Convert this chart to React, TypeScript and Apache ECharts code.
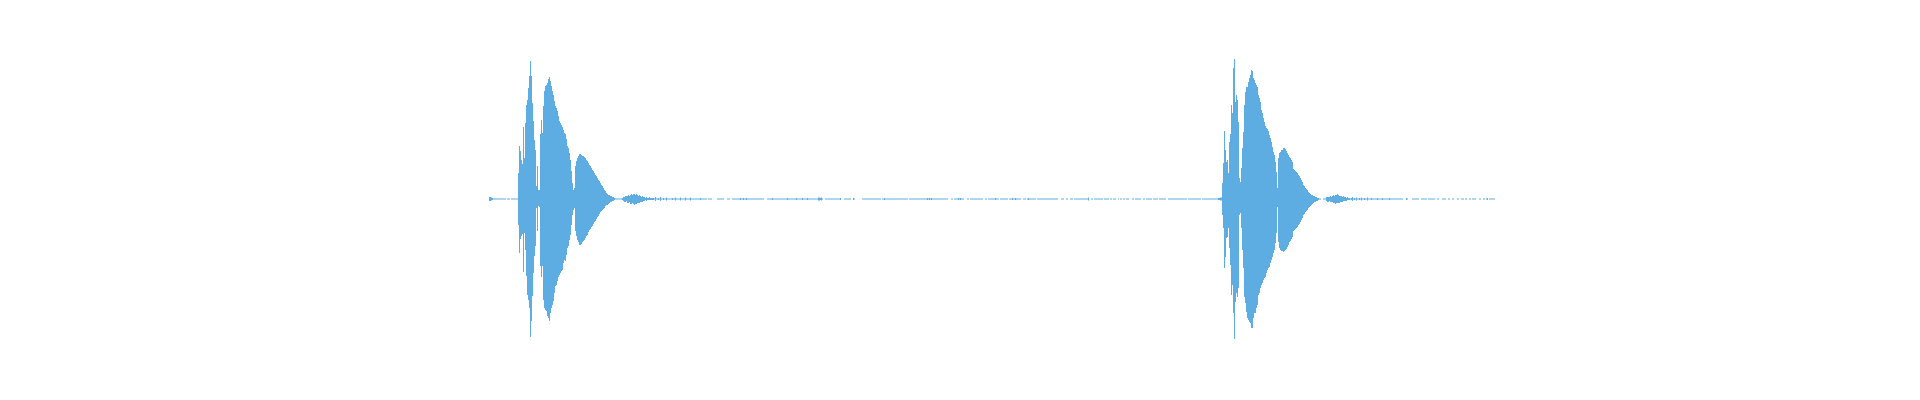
import React, { useRef, useEffect } from 'react';
import * as echarts from 'echarts';

// amplitude per sample (one sample per pixel column)
const leadIn = [
  2, 2, 1.5, 1, .6, .6, .6, .6, .6, .6, .6, .6, .6, .6, .6, .6, .6, 0, .6, .6,
  .6, 0, .6, .6, .6, .6, .6, .6,
];

const burst1Up = [
  .6, 26, 53, 48, 39, 35, 72, 41, 76, 94,
  99, 111, 123, 138, 123, 96, 78, 59, 49, 13,
  33, 9, 9, 65, 79, 66, 93, 108, 113, 114,
  116, 120, 122, 118, 113, 108, 104, 98, 93, 91,
  88, 83, 78, 76, 74, 72, 69, 66, 65, 60,
  53, 51, 46, 39, 28, 16, 9, 11, 33, 38,
  41, 43, 45, 45, 44, 43, 43, 42, 41, 39,
  38, 36, 34, 33, 31, 29, 28, 26, 24, 23,
  21, 19, 18, 16, 14, 13, 11, 9, 8, 6,
  5, 4, 4, 3, 3, 2, 2, 1, .6, .6,
  .6, .6, .6, .6, .6, 1, 2, 2, 3, 3,
  3, 4, 3, 4, 5, 4, 5, 5, 4, 5,
  4, 3, 4, 3, 2, 3, 2, 2, 1, 2,
  1, 1, 2, 1, 1, 1,
];

const burst1Down = [
  .6, 26, 54, 40, 37, 35, 73, 34, 51, 77,
  96, 101, 109, 138, 122, 97, 74, 57, 47, 9,
  32, 7, 8, 67, 78, 67, 101, 109, 111, 112,
  117, 119, 122, 114, 109, 106, 102, 94, 87, 86,
  82, 78, 76, 74, 72, 71, 64, 61, 62, 56,
  49, 47, 41, 36, 26, 16, 11, 9, 32, 37,
  41, 43, 46, 46, 45, 43, 42, 41, 39, 37,
  36, 33, 31, 30, 28, 27, 25, 23, 22, 20,
  18, 17, 15, 13, 12, 11, 10, 9, 7, 6,
  6, 5, 4, 3, 3, 2, 2, 1, .6, .6,
  .6, .6, .6, .6, .6, 1, 2, 3, 3, 2,
  4, 4, 3, 5, 5, 4, 5, 6, 5, 5,
  4, 4, 4, 3, 3, 3, 2, 2, 1, 2,
  1, 1, 1, 1, 1, 1,
];

const quiet1 = [
  1, .6, 2, .6, .6, 1, .6, 2, .6, .6, 1, .6, .6, 1.5, .6, .6, .6, .6, .6, 1,
  .6, .6, 1.5, .6, .6, .6, .6, 1.5, .6, .6, .6, .6, 1.5, .6, .6, .6, .6, 1.5, .6, .6,
  .6, .6, .6, .6, .6, .6, .6, 1, .6, .6, .6, .6, .6, .6, 0, .6, .6, .6, .6, 0,
  0, 0, 0, 0, .6, .6, .6, .6, .6, .6, .6, 0, 0, 0, .6, .6, .6, 0, 0, .6,
  .6, .6, .6, .6, .6, .6, .6, 1, .6, .6, 1, .6, .6, 1, .6, .6, .6, .6, .6, .6,
  .6, .6, .6, .6, .6, .6, .6, .6, .6, .6, .6, 0, 0, 0, .6, .6, .6, .6, .6, 1,
  .6, .6, .6, .6, .6, .6, .6, .6, .6, .6, .6, .6, .6, .6, 1, .6, .6, .6, .6, .6,
  .6, .6, .6, 1, .6, .6, .6, .6, .6, 1, .6, .6, .6, .6, 1, .6, .6, .6, .6, .6,
  .6, .6, .6, .6, .6, 1.5, 1.5, 1, 1.5, .6, 0, 0, .6, .6, .6, .6, .6, .6, .6, .6,
  .6, .6, .6, .6, .6, .6, .6, 1, 0, 0, 0, .6, .6, .6, .6, .6, .6, .6, 0, 0,
  1, .6, 0, 0, 0, 0, 0, 0, 0, .6, .6, .6, .6, .6, .6, .6, .6, .6, .6, .6,
  .6, .6, .6, .6, .6, .6, .6, .6, 0, .6, .6, 1, .6, .6, .6, .6, .6, .6, .6, .6,
  .6, .6, .6, .6, .6, .6, .6, .6, .6, .6, .6, .6, .6, .6, .6, 0, .6, .6, .6, .6,
  .6, .6, .6, .6, .6, .6, .6, .6, .6, .6, .6, .6, .6, .6, 1, .6, 1, .6, 1, .6,
  .6, .6, .6, .6, .6, .6, .6, .6, .6, .6, .6, .6, .6, .6, .6, 0, 0, 0, .6, .6,
  0, .6, .6, .6, .6, 1, .6, 1, .6, .6, .6, 0, 0, 0, .6, .6, 0, .6, .6, .6,
  .6, .6, .6, .6, .6, .6, .6, .6, .6, .6, 0, 0, .6, .6, 0, .6, .6, .6, .6, .6,
  .6, .6, 1, .6, .6, .6, 0, .6, .6, .6, .6, .6, .6, .6, .6, 0, .6, .6, .6, 1,
  .6, .6, 1, .6, .6, .6, .6, .6, 0, 0, .6, .6, .6, 0, .6, 1, .6, .6, .6, .6,
  .6, .6, .6, 0, .6, .6, .6, .6, .6, .6, .6, .6, .6, .6, .6, .6, .6, .6, .6, .6,
  .6, .6, .6, .6, .6, 0, 0, 0, .6, .6, .6, 0, 0, .6, .6, 0, 0, .6, .6, .6,
  0, .6, .6, .6, .6, .6, .6, .6, .6, .6, .6, .6, .6, .6, .6, 1.5, 0, 0, .6, .6,
  0, .6, .6, .6, .6, .6, .6, .6, .6, .6, 0, .6, .6, .6, .6, .6, 0, .6, .6, 0,
  .6, .6, .6, 0, 0, .6, 0, .6, .6, 0, .6, .6, 0, .6, .6, .6, 0, 0, 0, .6,
  .6, 0, .6, .6, .6, .6, .6, .6, 0, 0, .6, .6, 0, .6, .6, .6, .6, .6, .6, 0,
  .6, .6, .6, .6, .6, 0, .6, .6, .6, .6, .6, .6, .6, 0, 0, .6, .6, .6, .6, .6,
  .6, .6, .6, .6, .6, .6, .6, .6, .6, .6, .6, .6, .6, .6, 0, .6, .6, .6, .6, .6,
  .6, .6, .6, .6, .6, .6, .6, .6, 0, .6, .6, .6, .6, .6, .6, .6, .6, .6, .6, .6,
  .6, .6, .6, .6, .6, 1, 1, 1.5,
];

const burst2Up = [
  1.5, 16, 36, 68, 49, 37, 39, 26, 57, 65,
  94, 86, 131, 141, 97, 104, 99, 77, 21, 17,
  31, 51, 67, 94, 107, 112, 112, 117, 121, 124,
  129, 128, 121, 119, 116, 114, 112, 104, 101, 97,
  89, 86, 81, 77, 73, 71, 70, 68, 64, 61,
  57, 52, 47, 44, 37, 27, 11, 41, 46, 47,
  49, 49, 51, 51, 50, 48, 46, 44, 42, 41,
  39, 37, 30, 29, 28, 27, 26, 24, 23, 21,
  19, 17, 14, 13, 11, 10, 9, 7, 6, 5,
  4, 4, 3, 3, 2, 2, 1, 1, .6, .6,
  0, 0, .6, .6, .6, 2, 2, 2, 2, 3,
  2, 3, 4, 3, 4, 4, 5, 4, 3, 3,
  3, 2, 3, 2, 2, 1, 2, 1, 1, .6,
  1,
];

const burst2Down = [
  1.5, 16, 29, 69, 58, 39, 38, 29, 49, 66,
  96, 86, 114, 141, 103, 94, 98, 89, 16, 14,
  29, 51, 69, 98, 104, 113, 119, 121, 123, 124,
  129, 129, 119, 114, 114, 109, 106, 96, 94, 89,
  86, 84, 81, 79, 78, 74, 71, 69, 68, 64,
  61, 58, 54, 51, 44, 34, 8, 43, 49, 51,
  52, 52, 53, 52, 51, 50, 48, 46, 43, 42,
  40, 38, 32, 31, 30, 29, 28, 26, 25, 23,
  21, 19, 16, 15, 13, 12, 11, 9, 8, 7,
  6, 5, 4, 3, 3, 2, 2, 1, .6, .6,
  0, 0, .6, .6, .6, 2, 3, 3, 2, 3,
  3, 3, 4, 4, 5, 4, 4, 4, 4, 3,
  3, 3, 2, 2, 2, 2, 1, 1, 1, .6,
  1,
];

const quiet2 = [
  2, .6, 1, .6, 1.5, .6, .6, 1, .6, 1.5, .6, .6, 1, .6, .6, 1.5, .6, .6, .6, 1,
  .6, .6, .6, .6, .6, 1, .6, .6, .6, .6, 1, .6, .6, .6, .6, .6, .6, 1, .6, .6,
  .6, .6, .6, .6, .6, .6, .6, .6, .6, .6, .6, 0, 0, 0, 1, .6, 0, 0, 0, 0,
  .6, .6, .6, .6, .6, .6, .6, 0, 0, .6, .6, .6, .6, .6, .6, 0, .6, .6, .6, .6,
  .6, .6, .6, 0, 0, .6, .6, 0, 0, 0, .6, .6, .6, .6, 0, 0, .6, .6, 0, 0,
  .6, .6, 0, 0, 0, .6, .6, 0, 0, .6, .6, .6, 0, .6, .6, 0, 0, .6, .6, 0,
  .6, .6, .6, .6, 0, 0, 0, .6, .6, 0, 0, .6, .6, 0, .6, 1, 0, .6, .6, .6,
  .6, .6, .6,
];

const upper = [...leadIn, ...burst1Up, ...quiet1, ...burst2Up, ...quiet2];
const lower = [...leadIn, ...burst1Down, ...quiet1, ...burst2Down, ...quiet2];
const samples = upper.map((_, i) => String(i));

const WAVE_COLOR = '#5dade2';

export default function App() {
  const chartRef = useRef<HTMLDivElement>(null);

  useEffect(() => {
    if (!chartRef.current) return;
    const chart = echarts.init(chartRef.current, undefined, { renderer: 'svg' });

    const option: echarts.EChartsOption = {
      animation: false,
      grid: { left: 489, right: 1920 - 489 - samples.length, top: 59, height: 280 },
      xAxis: {
        type: 'category',
        data: samples,
        show: false,
      },
      yAxis: {
        type: 'value',
        min: -140,
        max: 140,
        show: false,
      },
      series: [
        {
          type: 'bar',
          data: upper,
          barGap: '-100%',
          barCategoryGap: '0%',
          itemStyle: { color: WAVE_COLOR },
          silent: true,
        },
        {
          type: 'bar',
          data: lower.map(v => -v),
          barGap: '-100%',
          barCategoryGap: '0%',
          itemStyle: { color: WAVE_COLOR },
          silent: true,
        },
      ],
    };

    chart.setOption(option);
    return () => {
      chart.dispose();
    };
  }, []);

  return (
    <div
      ref={chartRef}
      style={{ position: 'fixed', left: 0, top: 0, width: 1920, height: 400, background: '#fff' }}
    />
  );
}
